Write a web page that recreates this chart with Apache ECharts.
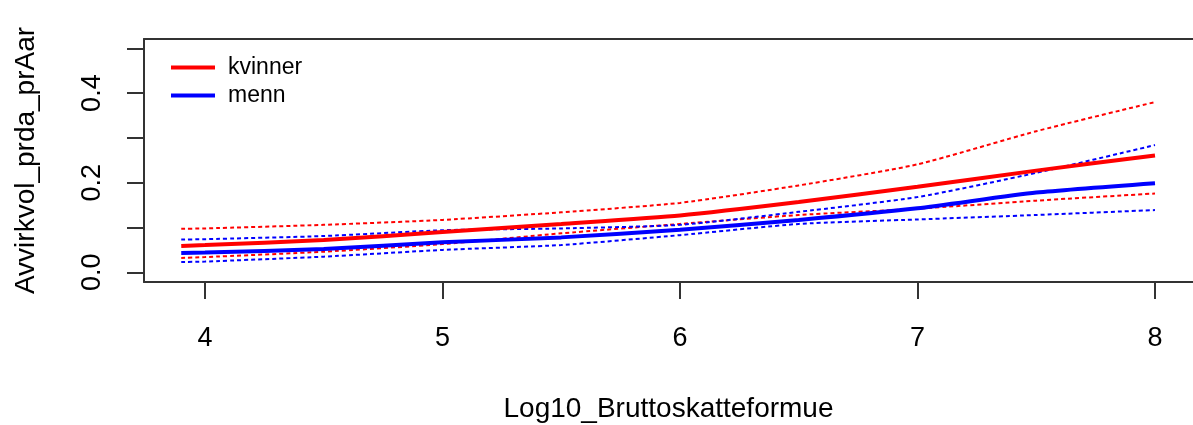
<!DOCTYPE html>
<html>
<head>
<meta charset="utf-8">
<script src="https://cdn.jsdelivr.net/npm/echarts@6/dist/echarts.min.js"></script>
<style>
  html, body { margin: 0; padding: 0; background: #fff; }
  #chart { width: 1193px; height: 425px; }
</style>
</head>
<body>
<div id="chart"></div>
<script>
// Log10 gross taxable wealth (x) against predicted value with confidence bands
const xValues = [3.9, 4.0, 4.5, 5.0, 5.5, 6.0, 6.5, 7.0, 7.5, 8.0];

const kvinner      = [0.059, 0.061, 0.072, 0.090, 0.108, 0.127, 0.157, 0.191, 0.227, 0.261];
const kvinnerUpper = [0.097, 0.098, 0.106, 0.117, 0.134, 0.155, 0.194, 0.241, 0.315, 0.380];
const kvinnerLower = [0.032, 0.034, 0.046, 0.063, 0.087, 0.108, 0.128, 0.142, 0.160, 0.176];

const menn      = [0.043, 0.044, 0.052, 0.067, 0.078, 0.095, 0.117, 0.143, 0.178, 0.199];
const mennUpper = [0.073, 0.074, 0.081, 0.094, 0.098, 0.106, 0.135, 0.168, 0.222, 0.284];
const mennLower = [0.023, 0.024, 0.035, 0.050, 0.061, 0.083, 0.108, 0.118, 0.128, 0.139];

const xTicks = [4, 5, 6, 7, 8];
const yTicks = [0, 0.1, 0.2, 0.3, 0.4, 0.5];
const yLabels = [0, 0.2, 0.4];

const FONT = '"Liberation Sans", Arial, sans-serif';
const FRAME = '#333';
const pair = (ys) => xValues.map((x, i) => [x, ys[i]]);

function solid(name, ys, color) {
  return {
    name, type: 'line', data: pair(ys), showSymbol: false, smooth: 0.2,
    color, z: 5,
    lineStyle: { color, width: 4 }
  };
}
function dotted(name, ys, color) {
  return {
    name, type: 'line', data: pair(ys), showSymbol: false, smooth: 0.2,
    color, z: 3,
    lineStyle: { color, width: 2, type: [4, 3] }
  };
}

const chart = echarts.init(document.getElementById('chart'), null, { renderer: 'canvas' });
chart.setOption({
  animation: false,
  backgroundColor: '#fff',
  textStyle: { fontFamily: FONT, color: '#000' },
  // plot frame runs past the right edge of the canvas, so only left/top/bottom are drawn
  grid: { left: 144, top: 39, right: 0, bottom: 143, show: false, outerBoundsMode: 'none', containLabel: false },
  legend: {
    data: ['kvinner', 'menn'],
    orient: 'vertical',
    left: 166, top: 51,
    itemWidth: 44, itemHeight: 14, itemGap: 5,
    icon: 'path://M0,0 H44 V4 H0 Z',
    textStyle: { fontFamily: FONT, fontSize: 23, color: '#000', padding: [0, 0, 0, 8] }
  },
  xAxis: [{
    type: 'value', min: 3.7432, max: 8.16,
    name: 'Log10_Bruttoskatteformue', nameLocation: 'middle', nameGap: 113,
    nameTextStyle: { fontFamily: FONT, fontSize: 28, color: '#000' },
    axisLine: { show: true, onZero: false, lineStyle: { color: FRAME, width: 2 } },
    splitLine: { show: false },
    axisTick: { show: true, length: 17, lineStyle: { color: FRAME, width: 2 }, customValues: xTicks },
    axisLabel: { fontFamily: FONT, fontSize: 27, color: '#000', margin: 43, customValues: xTicks,
      formatter: (v) => String(v) }
  }, {
    type: 'value', position: 'top', min: 3.7432, max: 8.16,
    axisLine: { show: true, onZero: false, lineStyle: { color: FRAME, width: 2 } },
    axisTick: { show: false }, axisLabel: { show: false }, splitLine: { show: false }
  }],
  yAxis: {
    type: 'value', min: -0.0216, max: 0.5208,
    name: 'Avvirkvol_prda_prAar', nameLocation: 'middle', nameGap: 104, nameRotate: 90,
    nameTextStyle: { fontFamily: FONT, fontSize: 28, color: '#000' },
    axisLine: { show: true, onZero: false, lineStyle: { color: FRAME, width: 2 } },
    splitLine: { show: false },
    axisTick: { show: true, length: 17, lineStyle: { color: FRAME, width: 2 }, customValues: yTicks },
    axisLabel: { fontFamily: FONT, fontSize: 27, color: '#000', margin: 38, rotate: 90,
      customValues: yLabels, formatter: (v) => v.toFixed(1) }
  },
  series: [
    dotted('kvinner øvre', kvinnerUpper, '#ff0000'),
    dotted('kvinner nedre', kvinnerLower, '#ff0000'),
    dotted('menn øvre', mennUpper, '#0000ff'),
    dotted('menn nedre', mennLower, '#0000ff'),
    solid('kvinner', kvinner, '#ff0000'),
    solid('menn', menn, '#0000ff')
  ]
});
</script>
</body>
</html>
